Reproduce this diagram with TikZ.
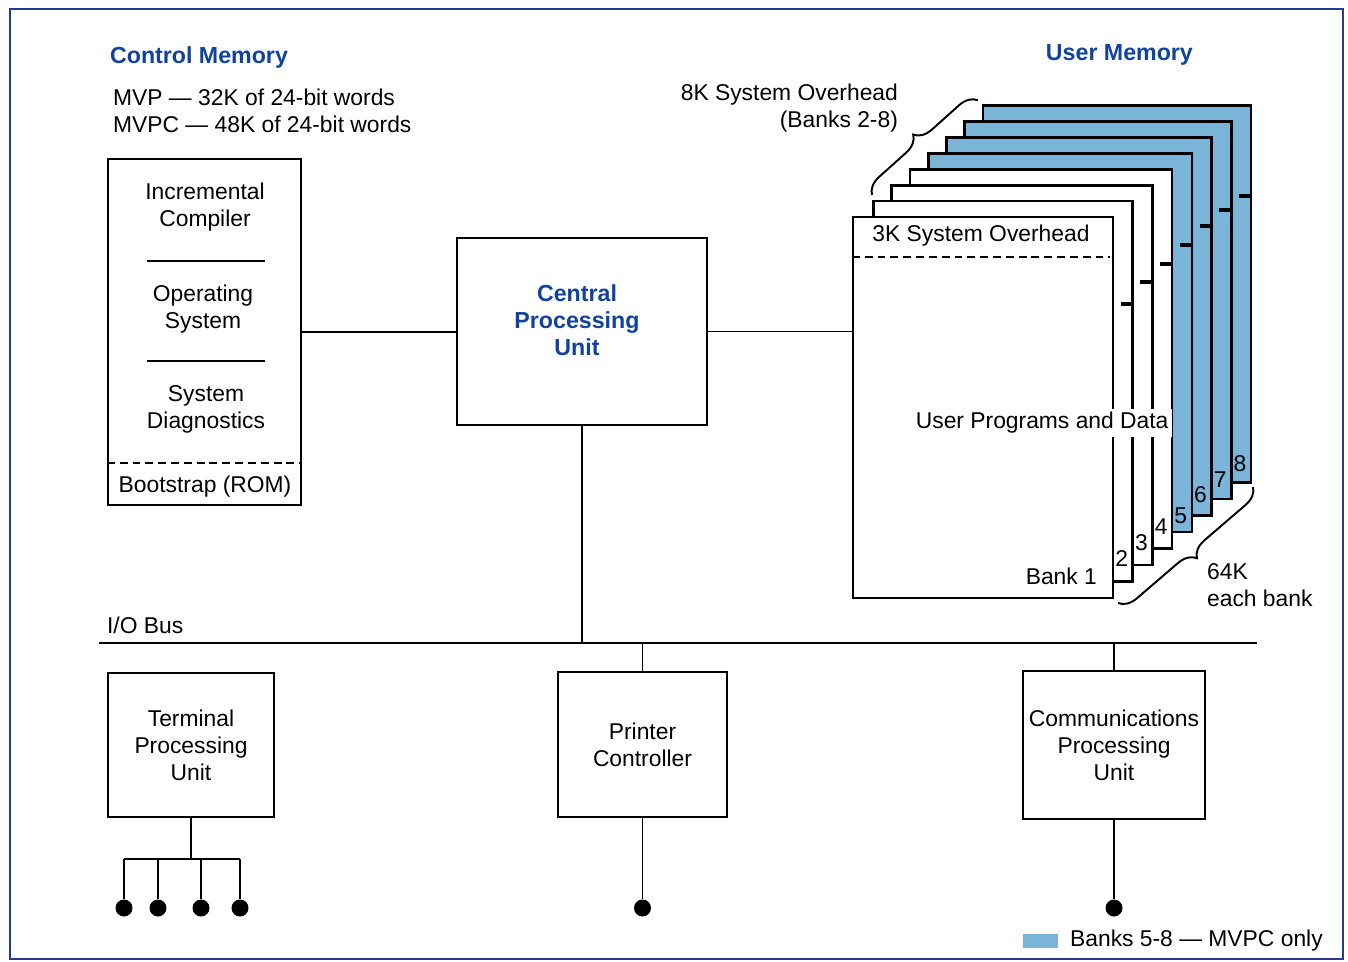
\documentclass[tikz,border=0pt]{standalone}
\usepackage{fontspec}
\setmainfont{Liberation Sans}
\usetikzlibrary{decorations.pathreplacing}
\definecolor{memblue}{RGB}{18,66,160}
\definecolor{bankblue}{RGB}{122,180,216}
\definecolor{framecol}{RGB}{36,58,140}
\tikzset{
  box/.style={draw, line width=1.3pt, inner sep=0pt},
  lbl/.style={font=\fontsize{13}{15.3}\selectfont, align=center, inner sep=1pt},
  title/.style={font=\bfseries\fontsize{13.2}{15.3}\selectfont, text=memblue, align=center, inner sep=1pt},
  wire/.style={line width=0.85pt},
  dot/.style={circle, fill=black, inner sep=0pt, minimum size=0.34cm},
  bankbrace/.style={decorate, decoration={brace, amplitude=0.35cm}, line width=1.1pt},
  dash line/.style={line width=1.6pt, dash pattern=on 4.5pt off 2.8pt},
}
\begin{document}
\begin{tikzpicture}[x=0.02cm, y=-0.02cm]
  \def\Ybus{643};
  \def\Ydot{908};
  \def\Yfan{859};

  \useasboundingbox (0,0) rectangle (1348,961);
  \draw[framecol, line width=1pt] (10,9) rectangle (1343,959);

  % banks
  \foreach \i in {8,7,...,2} {
    \pgfmathsetmacro{\bl}{855+18.3*(\i-1)}
    \pgfmathsetmacro{\br}{1113+19.7*(\i-1)}
    \pgfmathsetmacro{\bt}{217-15.9*(\i-1)}
    \pgfmathsetmacro{\bb}{598-16.5*(\i-1)}
    \ifnum\i>4 \def\bfill{bankblue}\else\def\bfill{white}\fi
    \draw[line width=1.5pt, fill=\bfill] (\bl,\bt) rectangle (\br,\bb);
  }
  \node[box, fill=white, minimum width=5.2cm, minimum height=7.62cm] (bank1) at (983,407.5) {};
  \draw[dash line] (bank1.west |- 0,257) -- (1110,257);

  % ticks and numbers
  \foreach \i/\ty/\ny in {2/304/559, 3/282/543, 4/264/527, 5/245/516, 6/226/495, 7/210/480, 8/196/464} {
    \pgfmathsetmacro{\br}{1113+19.7*(\i-1)}
    \draw[line width=2pt] (\br-12,\ty) -- (\br,\ty);
    \node[lbl] (n\i) at (\br-11,\ny) {\i};
  }

  % boxes
  \node[box, minimum width=3.86cm, minimum height=6.92cm] (ctrl) at (204.5,332) {};
  \node[box, minimum width=5cm, minimum height=3.74cm] (cpu) at (582,331.5) {};
  \node[box, minimum width=3.32cm, minimum height=2.88cm] (term) at (191,745) {};
  \node[box, minimum width=3.38cm, minimum height=2.9cm] (prn) at (642.5,744.5) {};
  \node[box, minimum width=3.64cm, minimum height=2.96cm] (comm) at (1114,745) {};

  \draw[wire] (147,261) -- (265,261);
  \draw[wire] (147,361) -- (265,361);
  \draw[dash line] (ctrl.west |- 0,463) -- (ctrl.east |- 0,463);

  % bus
  \coordinate (busL) at (99,\Ybus);
  \coordinate (busR) at (1257,\Ybus);
  \draw[wire] (busL) -- (busR);
  \draw[wire] (ctrl.east) -- (cpu.west |- ctrl.east);
  \draw[wire] (cpu.east) -- (cpu.east -| bank1.west);
  \draw[wire] (cpu.south) -- (cpu.south |- busL);
  \draw[wire] (prn.north) -- (prn.north |- busL);
  \draw[wire] (comm.north) -- (comm.north |- busL);

  % dots
  \node[dot] (pdot) at (prn.south |- 0,\Ydot) {};
  \node[dot] (cdot) at (comm.south |- 0,\Ydot) {};
  \draw[wire] (prn.south) -- (pdot);
  \draw[wire] (comm.south) -- (cdot);
  \coordinate (fan) at (term.south |- 0,\Yfan);
  \draw[wire] (term.south) -- (fan);
  \draw[line width=1.3pt] (124,\Yfan) -- (240,\Yfan);
  \foreach \x [count=\j] in {124,158,201,240} {
    \node[dot] (t\j) at (\x,\Ydot) {};
    \draw[line width=1.3pt] (\x,\Yfan) -- (t\j);
  }

  % braces
  \draw[bankbrace] (872,195) -- (978,100);
  \draw[bankbrace] (1253,487) -- (1118,603);

  % legend
  \node[fill=bankblue, minimum width=0.7cm, minimum height=0.28cm, inner sep=0pt] (key) at (1040.5,941) {};
  \node[lbl, anchor=west] (keytxt) at (1068,941) {Banks 5-8 \textemdash\ MVPC only};

  % labels
  \node[title, anchor=west] (ctitle) at (108,57) {Control Memory};
  \node[title, anchor=east] (utitle) at (1195,55) {User Memory};
  \node[lbl, anchor=west, align=left] (sizes) at (111,110.5) {MVP \textemdash\ 32K of 24-bit words\\MVPC \textemdash\ 48K of 24-bit words};
  \node[lbl] (comp) at (205,207) {Incremental\\Compiler};
  \node[lbl] (os) at (203,309) {Operating\\System};
  \node[lbl] (diag) at (206,409) {System\\Diagnostics};
  \node[lbl] (boot) at (205,487) {Bootstrap (ROM)};
  \node[title] (cpulbl) at (577,320) {Central\\Processing\\Unit};
  \node[lbl, anchor=east, align=right] (ovh) at (900,108) {8K System Overhead\\(Banks 2-8)};
  \node[lbl] (ovh1) at (981,236) {3K System Overhead};
  \node[lbl, anchor=west, fill=white, inner sep=2pt] (upd) at (912,423) {User Programs and Data};
  \node[lbl, anchor=east] (b1) at (1099,576) {Bank 1};
  \node[lbl, anchor=west, align=left] (each) at (1205,585) {64K\\each bank};
  \node[lbl, anchor=west] (iobus) at (105,625) {I/O Bus};
  \node[lbl] (termlbl) at (term) {Terminal\\Processing\\Unit};
  \node[lbl] (prnlbl) at (prn) {Printer\\Controller};
  \node[lbl] (commlbl) at (comm) {Communications\\Processing\\Unit};
\end{tikzpicture}
\end{document}
